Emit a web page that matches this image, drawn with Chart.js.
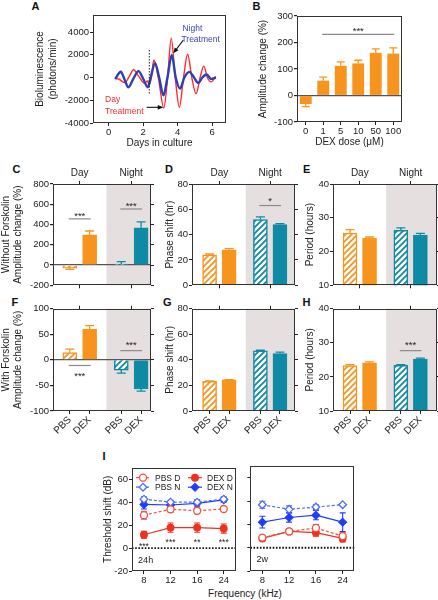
<!DOCTYPE html>
<html lang="en">
<head>
<meta charset="utf-8">
<title>DEX figure</title>
<script src="https://cdn.jsdelivr.net/npm/chart.js@4.4.1/dist/chart.umd.min.js"></script>
<style>
  body { margin:0; width:438px; height:600px; position:relative; overflow:hidden; background:#fff; font-family:"Liberation Sans", Arial, sans-serif; color:#222; }
  canvas { position:absolute; }
  .letra { position:absolute; font-weight:bold; font-size:11px; line-height:11px; color:#111; }
  .rotulo { position:absolute; font-size:10px; line-height:12px; text-align:center; color:#222; }
</style>
</head>
<body>
<div class="letra" style="left:31.5px;top:0.5px">A</div>
<div class="letra" style="left:252.5px;top:0.5px">B</div>
<div class="letra" style="left:12.5px;top:163.5px">C</div>
<div class="letra" style="left:165px;top:163.5px">D</div>
<div class="letra" style="left:303px;top:163.5px">E</div>
<div class="letra" style="left:11.5px;top:296.5px">F</div>
<div class="letra" style="left:163px;top:296.5px">G</div>
<div class="letra" style="left:302.5px;top:296.5px">H</div>
<div class="letra" style="left:102.5px;top:450.5px">I</div>
<div class="rotulo" style="left:195px;top:588px;width:100px">Frequency (kHz)</div>
<script>
// --- dados ---

// A: bioluminescencia (dias, photons/min)
const diasNoite = [0.38,0.71,0.92,1.15,1.44,1.73,2.02,2.27,2.44,2.69,2.93,3.18,3.41,3.66,3.89,4.14,4.39,4.68,4.95,5.2,5.43,5.68,5.94,6.22];
const lumNoite = [-130,510,-150,-860,-100,560,-150,-860,0,1250,0,-1570,0,1980,0,-980,0,500,0,-480,0,260,-120,0];
const diasDia = [0.38,0.6,0.95,1.2,1.45,1.75,2.08,2.25,2.36,2.48,2.62,2.88,3.2,3.42,3.63,3.86,4.1,4.34,4.58,4.82,5.07,5.3,5.52,5.72,5.95,6.2];
const lumDia = [-80,-150,-450,100,680,100,-500,-300,-650,0,1550,0,-2680,0,3470,0,-2620,0,2050,0,-1430,0,1000,0,-380,80];
const ticksDias = [0, 2, 4, 6];
const ticksLum = [-4000, -2000, 0, 2000, 4000];

// B: dose de DEX
const doses = ['0', '1', '5', '10', '50', '100'];
const ampDose = [-32, 56, 112, 121, 161, 158];
const errDose = [10, 13, 15, 12, 15, 22];
const ticksAmpDose = [-100, 0, 100, 200, 300];

// C-H: PBS/DEX, dia/noite
const tratamentos = ['PBS', 'DEX', 'PBS', 'DEX'];
const periodos = ['Day', 'Night'];
const ampSemFsk = [-30, 297, 10, 368];
const errAmpSemFsk = [12, 39, 23, 59];
const faseSemFsk = [24, 28, 52, 48];
const errFaseSemFsk = [0.7, 1, 2, 0.7];
const perSemFsk = [25.5, 24, 26.3, 24.9];
const errPerSemFsk = [1, 0.3, 0.7, 0.5];
const ampComFsk = [14, 60, -20, -57];
const errAmpComFsk = [7, 7, 6, 4];
const faseComFsk = [23.3, 24.3, 47, 45];
const errFaseComFsk = [0.3, 0.3, 0.5, 1];
const perComFsk = [23.3, 24.1, 23.4, 25.2];
const errPerComFsk = [0.3, 0.3, 0.2, 0.3];
const ticksAmpSem = [-200, 0, 200, 400, 600, 800];
const ticksAmpCom = [-100, -50, 0, 50, 100];
const ticksFase = [0, 20, 40, 60, 80];
const ticksPer = [10, 20, 30, 40];

// I: threshold shift (dB)
const freqs = ['8', '12', '16', '24'];
const pbsD24 = [28.6, 33.8, 32.5, 34];
const errPbsD24 = [3.5, 2.5, 2.5, 1.5];
const dexD24 = [11.6, 17.8, 17.8, 17];
const errDexD24 = [3, 4, 4, 4];
const pbsN24 = [42.6, 40, 40, 42.6];
const errPbsN24 = [2, 1.5, 2, 2];
const dexN24 = [38, 37.5, 39, 42];
const errDexN24 = [4, 2, 2.5, 2];
const pbsD2w = [8.7, 14, 17, 10];
const errPbsD2w = [2, 2, 3, 3];
const dexD2w = [8, 14, 13, 8];
const errDexD2w = [2, 2, 3, 3];
const pbsN2w = [37, 33, 35, 37];
const errPbsN2w = [3, 3, 2, 1];
const dexN2w = [22, 26, 28, 22];
const errDexN2w = [5, 4, 4, 8];
const estrelas24 = ['***', '***', '**', '***'];
const ticksDb = [-20, 0, 20, 40, 60];

// --- estilos ---
const LARANJA = '#f7941e';
const PETROLEO = '#0e8aa5';
const SOMBRA = '#e5e0df';
const FONTE = '"Liberation Sans", Arial, sans-serif';

Chart.defaults.font.family = FONTE;
Chart.defaults.font.size = 9.5;
Chart.defaults.color = '#222';
Chart.defaults.animation = false;
Chart.defaults.plugins.legend.display = false;
Chart.defaults.plugins.tooltip.enabled = false;

function criaCanvas(left, top, w, h) {
    const c = document.createElement('canvas');
    c.width = w; c.height = h;
    c.style.left = left + 'px'; c.style.top = top + 'px';
    c.style.width = w + 'px'; c.style.height = h + 'px';
    document.body.appendChild(c);
    return c;
}

// fixa a largura/altura do eixo para a area do grafico cair no lugar certo
const fixo = n => (s => { if (s.isHorizontal()) s.height = n; else s.width = n; });
const marcas = lista => (s => { s.ticks = lista.map(v => ({ value: v })); });
const semVirgula = v => String(v);

function hachura(cor) {
    const p = document.createElement('canvas');
    p.width = 6; p.height = 6;
    const g = p.getContext('2d');
    g.fillStyle = '#fff'; g.fillRect(0, 0, 6, 6);
    g.strokeStyle = cor; g.lineWidth = 1.8;
    g.beginPath();
    g.moveTo(0, 6); g.lineTo(6, 0);
    g.moveTo(-3, 3); g.lineTo(3, -3);
    g.moveTo(3, 9); g.lineTo(9, 3);
    g.stroke();
    return g.createPattern(p, 'repeat');
}

// --- plugins ---
const sombra = {
    id: 'sombra',
    beforeDraw(chart, args, o) {
        if (o.de === undefined) return;
        const { ctx, chartArea: a, scales: { x } } = chart;
        const x0 = x.getPixelForValue(o.de);
        ctx.save();
        ctx.fillStyle = SOMBRA;
        ctx.fillRect(x0, a.top, a.right - x0, a.bottom - a.top);
        ctx.restore();
    }
};

const barrasErro = {
    id: 'barrasErro',
    beforeDatasetsDraw(chart) {
        const { ctx, scales: { y } } = chart;
        chart.data.datasets.forEach((ds, di) => {
            if (!ds.erros) return;
            const meta = chart.getDatasetMeta(di);
            meta.data.forEach((el, i) => {
                const d = ds.data[i];
                const v = typeof d === 'object' ? d.y : d;
                const e = ds.erros[i];
                const cor = Array.isArray(ds.borderColor) ? ds.borderColor[i] : ds.borderColor;
                const cap = ds.cap || 4;
                ctx.save();
                ctx.strokeStyle = cor;
                ctx.lineWidth = ds.larguraErro || 1.3;
                ctx.beginPath();
                const pontas = ds.ambos ? [v - e, v + e] : [v + (v < 0 ? -e : e)];
                pontas.forEach(t => {
                    const py = y.getPixelForValue(t);
                    ctx.moveTo(el.x, y.getPixelForValue(v));
                    ctx.lineTo(el.x, py);
                    ctx.moveTo(el.x - cap, py);
                    ctx.lineTo(el.x + cap, py);
                });
                ctx.stroke();
                ctx.restore();
            });
        });
    }
};

const sig = {
    id: 'sig',
    afterDatasetsDraw(chart, args, o) {
        if (!o.itens) return;
        const { ctx, scales: { x, y } } = chart;
        o.itens.forEach(s => {
            const x1 = x.getPixelForValue(s.x1) - 1, x2 = x.getPixelForValue(s.x2) + 1;
            const py = y.getPixelForValue(s.y);
            ctx.save();
            ctx.strokeStyle = '#8a8a8a'; ctx.lineWidth = 1.2;
            ctx.beginPath(); ctx.moveTo(x1, py); ctx.lineTo(x2, py); ctx.stroke();
            ctx.fillStyle = '#222';
            ctx.font = '9.5px ' + FONTE;
            ctx.textAlign = 'center'; ctx.textBaseline = 'middle';
            ctx.fillText(s.t, (x1 + x2) / 2, y.getPixelForValue(s.ty) + 2.2);
            ctx.restore();
        });
    }
};

const notas = {
    id: 'notas',
    afterDatasetsDraw(chart, args, o) {
        const { ctx, scales: { x, y } } = chart;
        (o.linhas || []).forEach(l => {
            ctx.save();
            ctx.strokeStyle = l.cor || '#000'; ctx.lineWidth = l.w || 1;
            ctx.setLineDash(l.dash || []);
            ctx.beginPath();
            ctx.moveTo(x.getPixelForValue(l.x1), y.getPixelForValue(l.y1));
            ctx.lineTo(x.getPixelForValue(l.x2), y.getPixelForValue(l.y2));
            ctx.stroke();
            ctx.restore();
        });
        (o.setas || []).forEach(s => {
            const x1 = x.getPixelForValue(s.x1), y1 = y.getPixelForValue(s.y1);
            const x2 = x.getPixelForValue(s.x2), y2 = y.getPixelForValue(s.y2);
            const ang = Math.atan2(y2 - y1, x2 - x1);
            ctx.save();
            ctx.strokeStyle = '#111'; ctx.fillStyle = '#111'; ctx.lineWidth = 1.1;
            ctx.beginPath(); ctx.moveTo(x1, y1);
            ctx.lineTo(x2 - 4 * Math.cos(ang), y2 - 4 * Math.sin(ang)); ctx.stroke();
            ctx.beginPath();
            ctx.moveTo(x2, y2);
            ctx.lineTo(x2 - 6 * Math.cos(ang - 0.4), y2 - 6 * Math.sin(ang - 0.4));
            ctx.lineTo(x2 - 6 * Math.cos(ang + 0.4), y2 - 6 * Math.sin(ang + 0.4));
            ctx.closePath(); ctx.fill();
            ctx.restore();
        });
        (o.textos || []).forEach(t => {
            ctx.save();
            ctx.fillStyle = t.cor || '#222';
            ctx.font = (t.tam || 9) + 'px ' + FONTE;
            ctx.textAlign = t.alinha || 'center';
            ctx.textBaseline = 'middle';
            ctx.fillText(t.t, x.getPixelForValue(t.x), y.getPixelForValue(t.y) + (t.dy || 0));
            ctx.restore();
        });
    }
};

const moldura = {
    id: 'moldura',
    afterDatasetsDraw(chart) {
        const { ctx, chartArea: a } = chart;
        ctx.save();
        ctx.strokeStyle = '#333'; ctx.lineWidth = 1;
        ctx.strokeRect(Math.round(a.left) + 0.5, Math.round(a.top) + 0.5,
            Math.round(a.right - a.left) - 1, Math.round(a.bottom - a.top) - 1);
        ctx.restore();
    }
};

function marcador(ctx, ds, x, y) {
    const r = ds.pointRadius;
    ctx.save();
    ctx.fillStyle = ds.pointBackgroundColor;
    ctx.strokeStyle = ds.borderColor;
    ctx.lineWidth = ds.pointBorderWidth;
    ctx.setLineDash([]);
    ctx.beginPath();
    if (ds.pointStyle === 'rectRot') {
        ctx.moveTo(x, y - r); ctx.lineTo(x + r, y); ctx.lineTo(x, y + r); ctx.lineTo(x - r, y);
        ctx.closePath();
    } else {
        ctx.arc(x, y, r, 0, Math.PI * 2);
    }
    ctx.fill(); ctx.stroke();
    ctx.restore();
}

const legendaI = {
    id: 'legendaI',
    afterDatasetsDraw(chart, args, o) {
        if (!o.mostrar) return;
        const { ctx, chartArea: a } = chart;
        chart.data.datasets.forEach((ds, i) => {
            const mx = a.left + 11 + (i % 2) * 52;
            const my = a.top + 10 + Math.floor(i / 2) * 9.5;
            ctx.save();
            ctx.strokeStyle = ds.borderColor; ctx.lineWidth = ds.borderWidth;
            ctx.setLineDash(ds.borderDash || []);
            ctx.beginPath(); ctx.moveTo(mx - 7, my); ctx.lineTo(mx + 7, my); ctx.stroke();
            ctx.restore();
            marcador(ctx, ds, mx, my);
            ctx.save();
            ctx.fillStyle = '#222';
            ctx.font = '8.5px ' + FONTE;
            ctx.textAlign = 'left'; ctx.textBaseline = 'middle';
            ctx.fillText(ds.label, mx + 12, my + 0.5);
            ctx.restore();
        });
    }
};

Chart.register(sombra, barrasErro, sig, notas, moldura, legendaI);

const gradeFora = { drawOnChartArea: false, tickLength: 3, tickColor: '#222', offset: false };
const linhaZero = {
    drawOnChartArea: true, tickLength: 3, tickColor: '#222', offset: false, lineWidth: 1.2,
    color: c => (c.tick && c.tick.value === 0) ? '#555' : 'rgba(0,0,0,0)'
};

// --- A ---
new Chart(criaCanvas(30, 7, 200, 146), {
    type: 'line',
    data: {
        datasets: [
            { label: 'Night', data: diasNoite.map((d, i) => ({ x: d, y: lumNoite[i] })),
              borderColor: '#2d3fb3', borderWidth: 2.4, pointRadius: 0, cubicInterpolationMode: 'monotone' },
            { label: 'Day', data: diasDia.map((d, i) => ({ x: d, y: lumDia[i] })),
              borderColor: '#ff2a2a', borderWidth: 1.4, pointRadius: 0, cubicInterpolationMode: 'monotone' }
        ]
    },
    options: {
        responsive: false,
        layout: { padding: { top: 8, right: 4 } },
        scales: {
            x: { type: 'linear', min: -0.9, max: 6.8, afterBuildTicks: marcas(ticksDias), afterFit: fixo(30),
                 grid: gradeFora, border: { display: false }, ticks: { padding: 1, callback: semVirgula },
                 title: { display: true, text: 'Days in culture', font: { size: 10 }, padding: { top: 0, bottom: 4 } } },
            y: { min: -4000, max: 5500, afterBuildTicks: marcas(ticksLum), afterFit: fixo(63),
                 grid: gradeFora, border: { display: false }, ticks: { padding: 1, callback: semVirgula },
                 title: { display: true, text: ['Bioluminescence', '(photons/min)'], font: { size: 10, lineHeight: 1.3 }, padding: { top: 3.5, bottom: 0 } } }
        },
        plugins: {
            notas: {
                linhas: [{ x1: 2.36, y1: 2420, x2: 2.36, y2: -1540, dash: [1.5, 1.5], w: 1, cor: '#222' }],
                setas: [{ x1: 4.33, y1: 3300, x2: 3.75, y2: 2130 }, { x1: 2.21, y1: -2620, x2: 3.17, y2: -2620 }],
                textos: [
                    { t: 'Night', x: 4.28, y: 4330, cor: '#3b3fc0', alinha: 'left', tam: 8.5 },
                    { t: 'Treatment', x: 4.22, y: 3360, cor: '#3b3fc0', alinha: 'left', tam: 8.5 },
                    { t: 'Day', x: -0.2, y: -1980, cor: '#ff2a2a', alinha: 'left', tam: 8.5 },
                    { t: 'Treatment', x: -0.2, y: -3010, cor: '#ff2a2a', alinha: 'left', tam: 8.5 }
                ]
            }
        }
    }
});

// --- B ---
new Chart(criaCanvas(255, 8, 151, 144), {
    type: 'bar',
    data: {
        labels: doses,
        datasets: [{ data: ampDose, backgroundColor: LARANJA, borderColor: LARANJA, borderWidth: 0,
                     categoryPercentage: 1, barPercentage: 0.68, erros: errDose, cap: 4 }]
    },
    options: {
        responsive: false,
        layout: { padding: { top: 8, right: 4 } },
        scales: {
            x: { afterFit: fixo(30), grid: gradeFora, border: { display: false },
                 ticks: { padding: 1, autoSkip: false, minRotation: 0, maxRotation: 0 },
                 title: { display: true, text: 'DEX dose (μM)', font: { size: 10 }, padding: { top: 0, bottom: 4 } } },
            y: { min: -100, max: 300, afterBuildTicks: marcas(ticksAmpDose), afterFit: fixo(42),
                 grid: linhaZero, border: { display: false }, ticks: { padding: 1 },
                 title: { display: true, text: 'Amplitude change (%)', font: { size: 10 }, padding: { top: 2.3, bottom: 0 } } }
        },
        plugins: { sig: { itens: [{ x1: 1, x2: 5, y: 231, t: '***', ty: 250 }] } }
    }
});

// --- C a H ---
const posX = i => i + (i >= 2 ? 0.6 : 0);
const centros = [0.5, 3.1];

function barras(o) {
    const mt = o.linha === 1 ? 16 : 6;
    const mb = o.linha === 1 ? 5 : 30;
    const mr = 4;
    const c = criaCanvas(o.l - o.ml, o.t - mt, o.r - o.l + o.ml + mr, o.b - o.t + mt + mb);
    const escalaY = { min: o.yMin, max: o.yMax, afterBuildTicks: marcas(o.yTicks) };
    new Chart(c, {
        type: 'bar',
        data: {
            datasets: [{
                data: o.valores.map((v, i) => ({ x: posX(i), y: v })),
                backgroundColor: [hachura(LARANJA), LARANJA, hachura(PETROLEO), PETROLEO],
                borderColor: [LARANJA, LARANJA, PETROLEO, PETROLEO],
                borderWidth: 1.5, barThickness: 14, erros: o.erros, cap: 4.5
            }]
        },
        options: {
            responsive: false,
            scales: {
                x: { type: 'linear', offset: false, min: o.xMin, max: o.xMax,
                     afterBuildTicks: marcas(o.linha === 1 ? centros : [0, 1, 2, 3].map(posX)),
                     afterFit: fixo(mb), grid: gradeFora, border: { display: false },
                     ticks: { autoSkip: false, minRotation: 45, maxRotation: 45, padding: 0, font: { size: 10 },
                              callback: (v, i) => o.linha === 1 ? '' : tratamentos[i] } },
                x2: { type: 'linear', position: 'top', offset: false, min: o.xMin, max: o.xMax,
                      afterBuildTicks: marcas(centros), afterFit: fixo(mt), grid: gradeFora, border: { display: false },
                      ticks: { autoSkip: false, maxRotation: 0, padding: 2, font: { size: 10 },
                               callback: (v, i) => o.linha === 1 ? periodos[i] : '' } },
                y: Object.assign({ afterFit: fixo(o.ml), grid: o.zero ? linhaZero : gradeFora, border: { display: false },
                      ticks: { padding: 1 },
                      title: { display: true, text: o.titulo, font: { size: 10 }, padding: { top: o.tpad, bottom: 0 } } }, escalaY),
                y2: Object.assign({ position: 'right', afterFit: fixo(mr), grid: gradeFora, border: { display: false },
                      ticks: { display: false } }, escalaY)
            },
            plugins: { sombra: { de: 1.85 }, sig: { itens: o.sig || [] } }
        }
    });
}

barras({ l: 53, t: 184, r: 151, b: 287, ml: 53, tpad: 0, linha: 1, xMin: -0.85, xMax: 4.1,
         titulo: ['Without Forskolin', 'Amplitude change (%)'], yMin: -200, yMax: 800, yTicks: ticksAmpSem, zero: true,
         valores: ampSemFsk, erros: errAmpSemFsk,
         sig: [{ x1: posX(0), x2: posX(1), y: 456, t: '***', ty: 505 }, { x1: posX(2), x2: posX(3), y: 553, t: '***', ty: 602 }] });
barras({ l: 192, t: 184, r: 295, b: 287, ml: 34, tpad: 6, linha: 1, xMin: -0.9, xMax: 4.37,
         titulo: 'Phase shift (hr)', yMin: 0, yMax: 80, yTicks: ticksFase,
         valores: faseSemFsk, erros: errFaseSemFsk,
         sig: [{ x1: posX(2), x2: posX(3), y: 63, t: '*', ty: 68.3 }] });
barras({ l: 333, t: 184, r: 437, b: 287, ml: 35, tpad: 6.7, linha: 1, xMin: -0.87, xMax: 4.45,
         titulo: 'Period (hours)', yMin: 10, yMax: 40, yTicks: ticksPer,
         valores: perSemFsk, erros: errPerSemFsk });
barras({ l: 53, t: 308, r: 151, b: 411, ml: 53, tpad: 0, linha: 2, xMin: -0.85, xMax: 4.1,
         titulo: ['With Forskolin', 'Amplitude change (%)'], yMin: -100, yMax: 100, yTicks: ticksAmpCom, zero: true,
         valores: ampComFsk, erros: errAmpComFsk,
         sig: [{ x1: posX(0), x2: posX(1), y: -11, t: '***', ty: -28 }, { x1: posX(2), x2: posX(3), y: 18, t: '***', ty: 33 }] });
barras({ l: 192, t: 308, r: 295, b: 411, ml: 34, tpad: 6, linha: 2, xMin: -0.9, xMax: 4.37,
         titulo: 'Phase shift (hr)', yMin: 0, yMax: 80, yTicks: ticksFase,
         valores: faseComFsk, erros: errFaseComFsk });
barras({ l: 333, t: 308, r: 437, b: 411, ml: 35, tpad: 6.7, linha: 2, xMin: -0.87, xMax: 4.45,
         titulo: 'Period (hours)', yMin: 10, yMax: 40, yTicks: ticksPer,
         valores: perComFsk, erros: errPerComFsk,
         sig: [{ x1: posX(2), x2: posX(3), y: 27.7, t: '***', ty: 29.8 }] });

// --- I ---
const VERM = '#f2301f', VERM_CL = '#f4503f', AZUL = '#1f3cff', AZUL_CL = '#4b6cff';
function seriesI(pbsD, ePbsD, dexD, eDexD, pbsN, ePbsN, dexN, eDexN) {
    const pts = arr => arr.map((v, i) => ({ x: i, y: v }));
    const base = { borderWidth: 1.2, pointBorderWidth: 1.3, ambos: true, cap: 3, larguraErro: 1.1 };
    return [
        Object.assign({ label: 'PBS D', data: pts(pbsD), erros: ePbsD, borderColor: VERM_CL, pointBackgroundColor: '#fff',
                        borderDash: [3, 2], pointStyle: 'circle', pointRadius: 3.5 }, base),
        Object.assign({ label: 'DEX D', data: pts(dexD), erros: eDexD, borderColor: VERM, pointBackgroundColor: VERM,
                        pointStyle: 'circle', pointRadius: 3.3 }, base),
        Object.assign({ label: 'PBS N', data: pts(pbsN), erros: ePbsN, borderColor: AZUL_CL, pointBackgroundColor: '#fff',
                        borderDash: [3, 2], pointStyle: 'rectRot', pointRadius: 3.8 }, base),
        Object.assign({ label: 'DEX N', data: pts(dexN), erros: eDexN, borderColor: AZUL, pointBackgroundColor: AZUL,
                        pointStyle: 'rectRot', pointRadius: 3.8 }, base)
    ];
}

function painelI(canvas, ml, tpad, comRotulos, datasets, extras) {
    new Chart(canvas, {
        type: 'line',
        data: { datasets },
        options: {
            responsive: false,
            layout: { padding: { top: 3, right: 3 } },
            scales: {
                x: { type: 'linear', min: -0.45, max: 3.45, afterBuildTicks: marcas([0, 1, 2, 3]), afterFit: fixo(14),
                     grid: gradeFora, border: { display: false },
                     ticks: { padding: 1, callback: v => freqs[v] } },
                y: { min: -20, max: 70, afterBuildTicks: marcas(ticksDb), afterFit: fixo(ml),
                     grid: gradeFora, border: { display: false },
                     ticks: { padding: 1, display: comRotulos },
                     title: { display: comRotulos, text: 'Threshold shift (dB)', font: { size: 10 }, padding: { top: tpad, bottom: 0 } } }
            },
            plugins: { notas: extras, legendaI: { mostrar: comRotulos } }
        }
    });
}

const linhaZeroI = { x1: -0.45, x2: 3.45, y1: 0, y2: 0, dash: [1.6, 1.6], w: 1.8, cor: '#111' };

painelI(criaCanvas(98, 461, 143, 124), 34, 4.3, true,
    seriesI(pbsD24, errPbsD24, dexD24, errDexD24, pbsN24, errPbsN24, dexN24, errDexN24),
    { linhas: [linhaZeroI],
      textos: estrelas24.map((s, i) => ({ t: s, x: i, y: i === 0 ? 3.3 : 6.7, dy: 2, tam: 8.5 }))
              .concat([{ t: '24h', x: -0.22, y: -11, alinha: 'left', tam: 9 }]) });

painelI(criaCanvas(245, 461, 115, 124), 4, 0, false,
    seriesI(pbsD2w, errPbsD2w, dexD2w, errDexD2w, pbsN2w, errPbsN2w, dexN2w, errDexN2w),
    { linhas: [linhaZeroI], textos: [{ t: '2w', x: -0.22, y: -10.4, alinha: 'left', tam: 9 }] });
</script>
</body>
</html>
